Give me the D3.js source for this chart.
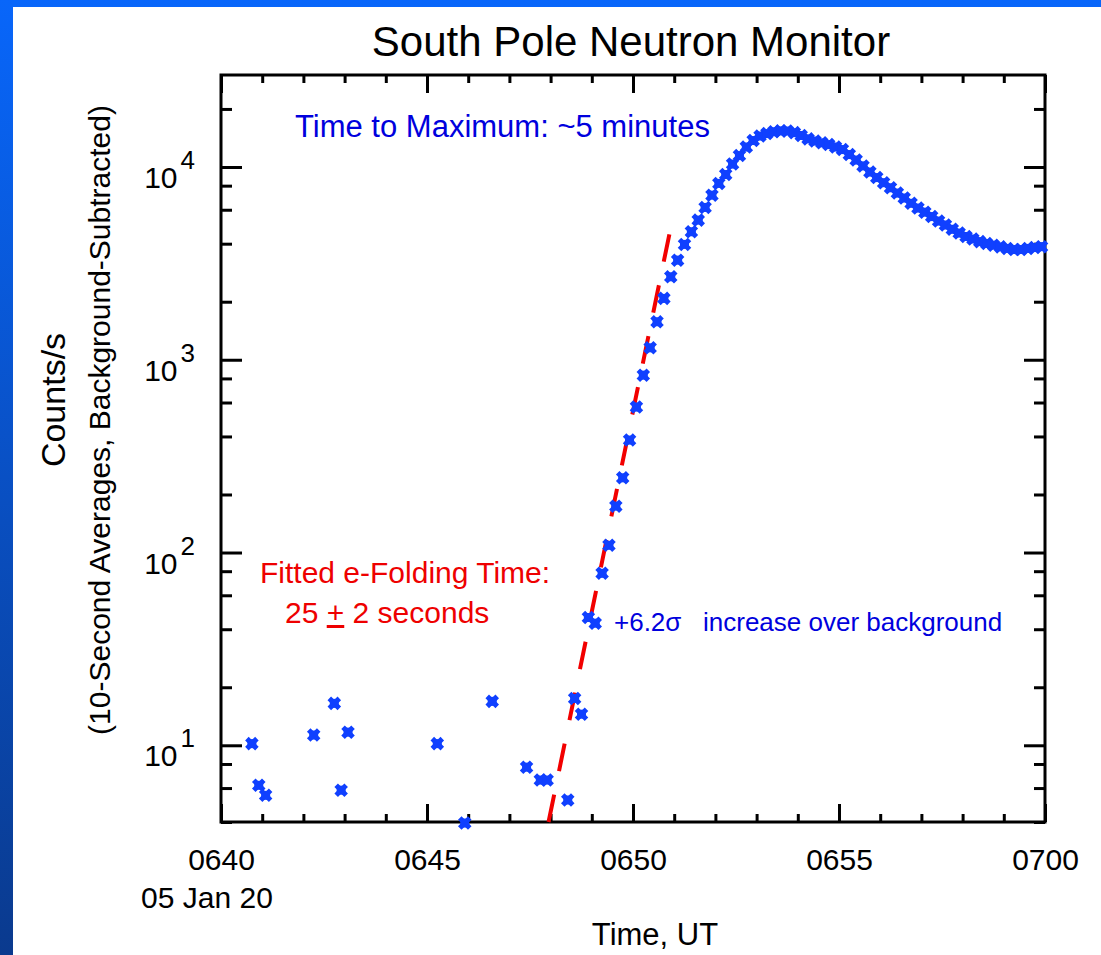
<!DOCTYPE html>
<html>
<head>
<meta charset="utf-8">
<script src="https://cdn.jsdelivr.net/npm/d3@7"></script>
<style>
  html, body { margin: 0; padding: 0; background: #fff; }
  svg { display: block; font-family: "Liberation Sans", Arial, sans-serif; }
</style>
</head>
<body>
<div id="chart"></div>
<script>
// 10-second averages, 05 Jan 2020 (UT)
const day = "2020-01-05";

// quiet period before the onset (values <= 0 are not shown on a log axis)
const preTimes = ["06:40:45", "06:40:55", "06:41:05", "06:42:15", "06:42:45", "06:42:55",
    "06:43:05", "06:45:15", "06:45:55", "06:46:35", "06:47:25", "06:47:45", "06:47:55",
    "06:48:25", "06:48:35", "06:48:45"];
const preCounts = [10.2, 6.2, 5.5, 11.3, 16.5, 5.85, 11.7, 10.2, 3.95, 16.9, 7.7, 6.6, 6.6,
    5.2, 17.5, 14.5];

// the event itself
const eventTimes = ["06:48:55",
    "06:49:05", "06:49:15", "06:49:25", "06:49:35", "06:49:45", "06:49:55",
    "06:50:05", "06:50:15", "06:50:25", "06:50:35", "06:50:45", "06:50:55",
    "06:51:05", "06:51:15", "06:51:25", "06:51:35", "06:51:45", "06:51:55",
    "06:52:05", "06:52:15", "06:52:25", "06:52:35", "06:52:45", "06:52:55",
    "06:53:05", "06:53:15", "06:53:25", "06:53:35", "06:53:45", "06:53:55",
    "06:54:05", "06:54:15", "06:54:25", "06:54:35", "06:54:45", "06:54:55",
    "06:55:05", "06:55:15", "06:55:25", "06:55:35", "06:55:45", "06:55:55",
    "06:56:05", "06:56:15", "06:56:25", "06:56:35", "06:56:45", "06:56:55",
    "06:57:05", "06:57:15", "06:57:25", "06:57:35", "06:57:45", "06:57:55",
    "06:58:05", "06:58:15", "06:58:25", "06:58:35", "06:58:45", "06:58:55",
    "06:59:05", "06:59:15", "06:59:25", "06:59:35", "06:59:45", "06:59:55"];
const eventCounts = [46,
    43, 78, 109, 174, 244, 383,
    568, 832, 1153, 1574, 2081, 2693,
    3286, 3966, 4612, 5300, 6168, 7143,
    8219, 9134, 10350, 11460, 12690, 13710,
    14470, 14900, 15230, 15390, 15360, 15070,
    14560, 13990, 13630, 13340, 13070, 12690,
    12310, 11600, 10860, 10130, 9410, 8810,
    8290, 7800, 7320, 6900, 6480, 6120,
    5830, 5530, 5240, 5000, 4750, 4540,
    4360, 4230, 4100, 4010, 3930, 3850,
    3780, 3730, 3730, 3780, 3820, 3860];

// exponential fit (straight on the log axis), end points
const fitTimes = ["06:47:57", "06:50:56"];
const fitCounts = [4, 5050];

// axes
const xDomain = ["06:40:00", "07:00:00"];
const yDomain = [4, 30000];
const decades = [10, 100, 1000, 10000];
const minorY = [4, 6, 8, 20, 40, 60, 80, 200, 400, 600, 800, 2000, 4000, 6000, 8000, 20000];

const width = 1101, height = 955;
const margin = {left: 221, right: 56, top: 75, bottom: 133};

const parseT = d3.utcParse("%Y-%m-%d %H:%M:%S");
const toDate = t => parseT(day + " " + t);

const svg = d3.select("#chart").append("svg")
    .attr("width", width)
    .attr("height", height);

// slide background: blue gradient showing on the left and top edges
const grad = svg.append("defs").append("linearGradient")
    .attr("id", "slide").attr("x1", 0).attr("y1", 0).attr("x2", 0).attr("y2", 1);
grad.append("stop").attr("offset", "0%").attr("stop-color", "#0866fa");
grad.append("stop").attr("offset", "100%").attr("stop-color", "#0a3a8e");
svg.append("rect").attr("width", width).attr("height", height).attr("fill", "url(#slide)");
svg.append("rect").attr("x", 13).attr("y", 7)
    .attr("width", width - 13).attr("height", height - 7).attr("fill", "#fff");

const x = d3.scaleUtc()
    .domain(xDomain.map(toDate))
    .range([margin.left, width - margin.right]);

const y = d3.scaleLog()
    .domain(yDomain)
    .range([height - margin.bottom, margin.top]);

const x0 = margin.left, x1 = width - margin.right;
const y0 = height - margin.bottom, y1 = margin.top;

/**
 * make the ticks thick and drop the axis line (the frame is drawn apart)
 */
function styleAxis(g){
    g.select(".domain").remove();
    g.selectAll(".tick line").attr("stroke", "#000").attr("stroke-width", 3);
}

// minor ticks, all four sides
svg.append("g").attr("transform", `translate(0,${y0})`)
    .call(d3.axisBottom(x).ticks(d3.utcMinute.every(1)).tickSize(-8).tickSizeOuter(0).tickFormat(""))
    .call(styleAxis);
svg.append("g").attr("transform", `translate(0,${y1})`)
    .call(d3.axisTop(x).ticks(d3.utcMinute.every(1)).tickSize(-8).tickSizeOuter(0).tickFormat(""))
    .call(styleAxis);
svg.append("g").attr("transform", `translate(${x0},0)`)
    .call(d3.axisLeft(y).tickValues(minorY).tickSize(-11).tickSizeOuter(0).tickFormat(""))
    .call(styleAxis);
svg.append("g").attr("transform", `translate(${x1},0)`)
    .call(d3.axisRight(y).tickValues(minorY).tickSize(-11).tickSizeOuter(0).tickFormat(""))
    .call(styleAxis);

// major ticks
svg.append("g").attr("transform", `translate(0,${y0})`)
    .call(d3.axisBottom(x).ticks(d3.utcMinute.every(5)).tickSize(-18).tickSizeOuter(0)
        .tickPadding(27).tickFormat(d3.utcFormat("%H%M")))
    .call(styleAxis)
    .call(g => g.selectAll("text").attr("font-size", 30).attr("fill", "#000")
        .attr("font-family", "Liberation Sans, Arial, sans-serif"));
svg.append("g").attr("transform", `translate(0,${y1})`)
    .call(d3.axisTop(x).ticks(d3.utcMinute.every(5)).tickSize(-18).tickSizeOuter(0).tickFormat(""))
    .call(styleAxis);
svg.append("g").attr("transform", `translate(${x0},0)`)
    .call(d3.axisLeft(y).tickValues(decades).tickSize(-21).tickSizeOuter(0).tickFormat(""))
    .call(styleAxis);
svg.append("g").attr("transform", `translate(${x1},0)`)
    .call(d3.axisRight(y).tickValues(decades).tickSize(-21).tickSizeOuter(0).tickFormat(""))
    .call(styleAxis);

// y labels as 10 with a raised exponent
const yLab = svg.append("g").selectAll("text")
    .data(decades)
    .join("text")
    .attr("x", x0 - 26)
    .attr("y", d => y(d) + 21)
    .attr("text-anchor", "end")
    .attr("font-size", 30);
yLab.append("tspan").text("10");
yLab.append("tspan")
    .attr("dx", 3)
    .attr("dy", -19)
    .attr("font-size", 26)
    .text(d => Math.round(Math.log10(d)));

// frame
svg.append("rect")
    .attr("x", x0).attr("y", y1)
    .attr("width", x1 - x0).attr("height", y0 - y1)
    .attr("fill", "none").attr("stroke", "#000").attr("stroke-width", 3);

// fitted e-folding line
const fit = fitTimes.map((t, i) => ({t: toDate(t), v: fitCounts[i]}));
svg.append("path")
    .datum(fit)
    .attr("d", d3.line().x(d => x(d.t)).y(d => y(d.v)))
    .attr("fill", "none")
    .attr("stroke", "#f20000")
    .attr("stroke-width", 4)
    .attr("stroke-dasharray", "28,24");

// data points
const points = preTimes.map((t, i) => ({t: toDate(t), v: preCounts[i]}))
    .concat(eventTimes.map((t, i) => ({t: toDate(t), v: eventCounts[i]})));

const mark = svg.append("g").selectAll("g")
    .data(points)
    .join("g")
    .attr("transform", d => `translate(${x(d.t)},${y(d.v)})`);
mark.append("path")
    .attr("d", "M-5,-5L5,5M-5,5L5,-5")
    .attr("stroke", "#1040ff")
    .attr("stroke-width", 5);
mark.append("rect")
    .attr("x", -4.5).attr("y", -4.5).attr("width", 9).attr("height", 9)
    .attr("fill", "#1040ff");

// titles
svg.append("text")
    .attr("x", 631).attr("y", 56)
    .attr("text-anchor", "middle")
    .attr("font-size", 42)
    .text("South Pole Neutron Monitor");

svg.append("text")
    .attr("x", 207).attr("y", 908)
    .attr("text-anchor", "middle")
    .attr("font-size", 30)
    .text("05 Jan 20");

svg.append("text")
    .attr("x", 655).attr("y", 945)
    .attr("text-anchor", "middle")
    .attr("font-size", 31)
    .text("Time, UT");

svg.append("text")
    .attr("transform", "translate(65,400) rotate(-90)")
    .attr("text-anchor", "middle")
    .attr("font-size", 34)
    .text("Counts/s");

svg.append("text")
    .attr("transform", "translate(110,420) rotate(-90)")
    .attr("text-anchor", "middle")
    .attr("font-size", 30)
    .text("(10-Second Averages, Background-Subtracted)");

// annotations
svg.append("text")
    .attr("x", 295).attr("y", 137)
    .attr("font-size", 31)
    .attr("fill", "#0000dd")
    .text("Time to Maximum: ~5 minutes");

svg.append("text")
    .attr("x", 260).attr("y", 583)
    .attr("font-size", 30)
    .attr("fill", "#ee0000")
    .text("Fitted e-Folding Time:");

const fold = svg.append("text")
    .attr("x", 285).attr("y", 623)
    .attr("font-size", 30)
    .attr("fill", "#ee0000");
fold.append("tspan").text("25 ");
fold.append("tspan").attr("text-decoration", "underline").text("+");
fold.append("tspan").text(" 2 seconds");

const sig = svg.append("text")
    .attr("x", 614).attr("y", 631)
    .attr("font-size", 26)
    .attr("fill", "#0000dd");
sig.append("tspan").text("+6.2σ");
sig.append("tspan").attr("x", 703).text("increase over background");
</script>
</body>
</html>
